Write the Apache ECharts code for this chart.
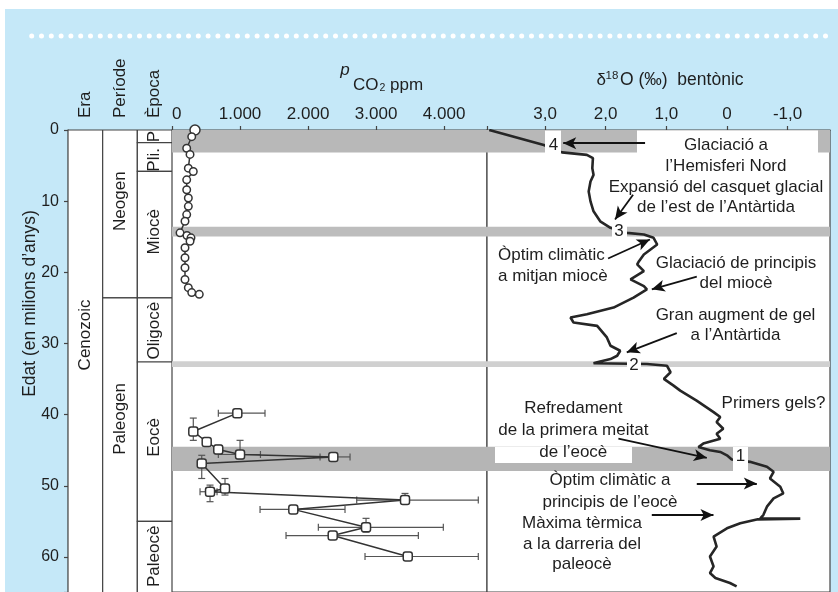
<!DOCTYPE html>
<html><head><meta charset="utf-8">
<script src="https://cdn.jsdelivr.net/npm/echarts@6/dist/echarts.min.js"></script>
<style>html,body{margin:0;padding:0;background:#fff}#c{width:838px;height:592px}</style>
</head><body><div id="c"></div>
<script>
// ---------------- data ----------------
const columnHeaders = ['Era', 'Període', 'Època'];

const eraNames = ['Cenozoic'];
const eraStart = [0];
const eraEnd = [66];
const eraLabelAt = [28.8];

const periodNames = ['Neogen', 'Paleogen'];
const periodStart = [0, 23.6];
const periodEnd = [23.6, 66];
const periodLabelAt = [10.0, 40.6];

const epochNames = ['P', 'Pli.', 'Miocè', 'Oligocè', 'Eocè', 'Paleocè'];
const epochStart = [0, 1.77, 5.8, 23.6, 32.6, 55.0];
const epochEnd = [1.77, 5.8, 23.6, 32.6, 55.0, 66];
const epochLabelAt = [0.93, 4.2, 14.3, 28.2, 43.2, 59.9];

const ageTicks = [0, 10, 20, 30, 40, 50, 60];
const co2Ticks = [0, 1000, 2000, 3000, 4000];
const co2TickText = ['0', '1.000', '2.000', '3.000', '4.000'];
const d18Ticks = [3, 2, 1, 0, -1];
const d18TickText = ['3,0', '2,0', '1,0', '0', '-1,0'];

// pCO2 (ppm) – Neogene proxies
const co2YoungAge = [0, 0.94, 2.56, 3.43, 5.36, 5.83, 7.0, 8.4, 9.56, 10.73, 11.89, 12.83, 14.45, 14.83, 15.15, 15.63, 16.55, 17.95, 19.35, 21.0, 22.15, 22.85, 23.09];
const co2YoungPpm = [338, 290, 216, 265, 240, 313, 216, 216, 240, 240, 216, 191, 118, 220, 279, 265, 191, 191, 191, 191, 240, 290, 401];

// pCO2 (ppm) – Paleogene proxies
const co2OldAge = [39.79, 42.36, 43.84, 44.9, 45.6, 45.94, 46.87, 50.37, 50.83, 52.0, 53.31, 55.83, 56.99, 59.93];
const co2OldPpm = [960, 313, 510, 680, 1000, 2371, 437, 779, 559, 3425, 1783, 2852, 2362, 3465];

// horizontal error bars (ppm)
const errHAge = [39.79, 45.6, 45.94, 50.83, 52.0, 53.31, 55.83, 56.99, 59.93];
const errHLow = [681, 681, 2176, 412, 2715, 1294, 2151, 1676, 2837];
const errHHigh = [1367, 1300, 2617, 662, 4502, 2543, 3988, 3621, 4502];

// vertical error bars (age)
const errVPpm = [313, 680, 1000, 437, 779, 559, 3425, 2852];
const errVAgeLow = [40.48, 44.3, 43.61, 45.71, 48.97, 49.9, 51.07, 54.57];
const errVAgeHigh = [43.61, 45.5, 46.2, 48.97, 51.3, 52.23, 52.6, 56.5];

// benthic δ18O (‰)
const d18Age = [0, 2.10, 3.15, 3.50, 3.96, 5.36, 6.30, 7.23, 8.63, 10.03, 11.43, 12.83, 13.75, 14.45, 14.69, 15.15, 16.09, 16.79, 17.49, 18.43, 18.89, 19.83, 20.99, 21.93, 22.39, 23.55, 24.95, 25.89, 26.35, 27.05, 27.52, 29.15, 30.32, 31.02, 31.72, 32.19, 32.64, 32.78, 32.88, 33.12, 34.04, 34.98, 35.92, 36.62, 38.02, 39.64, 40.34, 41.04, 41.98, 42.68, 43.38, 44.07, 44.54, 45.01, 45.24, 45.71, 46.31, 46.63, 47.33, 48.03, 48.97, 50.13, 51.07, 51.77, 52.93, 54.11, 54.57, 54.61, 54.71, 55.27, 55.97, 57.13, 58.53, 59.93, 61.33, 62.26, 62.96, 63.66, 64.13];
const d18Val = [3.92, 3.02, 2.72, 2.31, 2.21, 2.22, 2.20, 2.25, 2.28, 2.25, 2.20, 2.09, 1.92, 1.65, 1.37, 1.21, 1.15, 1.26, 1.37, 1.45, 1.48, 1.37, 1.59, 1.37, 1.32, 1.54, 1.87, 2.31, 2.58, 2.53, 2.14, 1.98, 1.92, 1.76, 1.81, 1.92, 2.14, 2.20, 1.32, 0.99, 0.93, 1.04, 0.88, 0.77, 0.50, 0.22, 0.11, 0.17, 0.06, 0.17, 0.11, 0.39, 0.47, 0.28, 0.11, 0.00, -0.08, -0.38, -0.66, -0.77, -0.71, -0.88, -0.93, -0.77, -0.66, -0.60, -0.55, -1.21, -0.51, -0.22, 0.00, 0.22, 0.17, 0.28, 0.22, 0.28, 0.19, -0.05, -0.16];

// shaded glaciation bands (age, Myr)
const bandStart = [0, 13.6, 32.5, 44.5];
const bandEnd = [3.15, 14.95, 33.3, 47.9];
const bandShade = ['#b8b8b8', '#bdbdbd', '#d0d0d0', '#b5b5b5'];

// annotation arrows in (δ18O, age)
const arrowFrom = [[1.35, 1.86], [1.548, 9.09], [1.96, 18.05], [0.497, 20.61], [0.827, 28.54], [1.79, 43.38], [0.497, 49.67], [1.239, 54.11]];
const arrowTo = [[2.70, 1.86], [1.845, 12.59], [1.27, 15.39], [1.239, 22.39], [1.652, 31.24], [0.332, 46.07], [-0.493, 49.67], [0.222, 54.11]];

// ---------------- styling ----------------
const FONT = 'Liberation Sans, Arial, Helvetica, sans-serif';
const INK = '#1e1e1e';
const LINE = '#444';
const AGE_MAX = 64.92;

const stratData = [];
eraNames.forEach((n, i) => stratData.push({ name: n, value: [0, eraStart[i], eraEnd[i], eraLabelAt[i]] }));
periodNames.forEach((n, i) => stratData.push({ name: n, value: [1, periodStart[i], periodEnd[i], periodLabelAt[i]] }));
epochNames.forEach((n, i) => stratData.push({ name: n, value: [2, epochStart[i], epochEnd[i], epochLabelAt[i]] }));

const bandsMarkArea = {
  silent: true,
  z: 1,
  data: bandStart.map((s, i) => [{ yAxis: s, itemStyle: { color: bandShade[i] } }, { yAxis: bandEnd[i] }])
};

const axisLineStyle = { color: LINE, width: 1.2 };

function yAxisFor(idx, show) {
  return {
    gridIndex: idx, type: 'value', inverse: true, min: 0, max: AGE_MAX, interval: 10,
    show: show,
    axisLine: { show: true, lineStyle: axisLineStyle },
    axisTick: { show: true, length: 4, lineStyle: axisLineStyle },
    axisLabel: { fontSize: 16, color: INK, margin: 9, fontFamily: FONT,
      formatter: v => (ageTicks.indexOf(v) >= 0 ? String(v) : '') },
    splitLine: { show: false }
  };
}

const gridBase = { top: 130, bottom: -2, show: true, backgroundColor: '#fff', borderColor: LINE, borderWidth: 1.2 };

const annotations = [
  { text: 'Glaciació a\nl’Hemisferi Nord', x: 726, y: 156, align: 'center', lh: 21 },
  { text: 'Expansió del casquet glacial\nde l’est de l’Antàrtida', x: 716, y: 197.5, align: 'center', lh: 19.5 },
  { text: 'Òptim climàtic\na mitjan miocè', x: 498, y: 266, align: 'left', lh: 21.5 },
  { text: 'Glaciació de principis\ndel miocè', x: 736, y: 273.5, align: 'center', lh: 20.5 },
  { text: 'Gran augment de gel\na l’Antàrtida', x: 735.5, y: 325.5, align: 'center', lh: 20 },
  { text: 'Primers gels?', x: 773.5, y: 403, align: 'center', lh: 20 },
  { text: 'Refredament\nde la primera meitat\nde l’eocè', x: 573.3, y: 430.5, align: 'center', lh: 21.7 },
  { text: 'Òptim climàtic a\nprincipis de l’eocè', x: 610, y: 491, align: 'center', lh: 21.7 },
  { text: 'Màxima tèrmica\na la darreria del\npaleocè', x: 582, y: 544, align: 'center', lh: 20.5 },
  { text: '4', x: 553.5, y: 145, align: 'center', lh: 20 },
  { text: '3', x: 619, y: 231.5, align: 'center', lh: 20 },
  { text: '2', x: 634, y: 365, align: 'center', lh: 20 },
  { text: '1', x: 740.5, y: 456, align: 'center', lh: 20 }
];
const whiteBoxes = [
  [545, 130.6, 16, 23], [612, 226, 15, 12], [627, 361, 14, 8], [733, 447, 15, 26],
  [637, 130.6, 181, 23], [495, 447, 137, 16]
];

const graphics = [
  { type: 'rect', z: 0, shape: { x: 0, y: 0, width: 838, height: 9 }, style: { fill: '#fff' } },
  { type: 'rect', z: 0, shape: { x: 0, y: 0, width: 5, height: 592 }, style: { fill: '#fff' } },
  { type: 'line', z: 1, shape: { x1: 31.7, y1: 36, x2: 826, y2: 36 },
    style: { stroke: '#fff', lineWidth: 5, lineCap: 'round', lineDash: [0, 9.8] } },
  { type: 'text', z: 6, x: 30, y: 303.5, rotation: Math.PI / 2,
    style: { text: 'Edat (en milions d’anys)', fontSize: 17.5, fontFamily: FONT, fill: INK, align: 'center', verticalAlign: 'middle' } },
  // pCO2 title
  { type: 'text', z: 6, x: 345, y: 70, style: { text: 'p', fontSize: 17, fontStyle: 'italic', fontFamily: FONT, fill: INK, align: 'center', verticalAlign: 'middle' } },
  { type: 'text', z: 6, x: 353, y: 85.5, style: { text: 'CO', fontSize: 17, fontFamily: FONT, fill: INK, align: 'left', verticalAlign: 'middle' } },
  { type: 'text', z: 6, x: 379.5, y: 88.5, style: { text: '2', fontSize: 10.5, fontFamily: FONT, fill: INK, align: 'left', verticalAlign: 'middle' } },
  { type: 'text', z: 6, x: 390, y: 85.5, style: { text: 'ppm', fontSize: 17, fontFamily: FONT, fill: INK, align: 'left', verticalAlign: 'middle' } },
  // δ18O title
  { type: 'text', z: 6, x: 596.5, y: 80, style: { text: 'δ', fontSize: 17, fontFamily: FONT, fill: INK, align: 'left', verticalAlign: 'middle' } },
  { type: 'text', z: 6, x: 605.5, y: 75.5, style: { text: '18', fontSize: 11.5, fontFamily: FONT, fill: INK, align: 'left', verticalAlign: 'middle' } },
  { type: 'text', z: 6, x: 620, y: 80, style: { text: 'O (‰)  bentònic', fontSize: 17.5, fontFamily: FONT, fill: INK, align: 'left', verticalAlign: 'middle' } }
];
whiteBoxes.forEach(b => graphics.push({ type: 'rect', z: 4, shape: { x: b[0], y: b[1], width: b[2], height: b[3] }, style: { fill: '#fff' } }));
annotations.forEach(a => graphics.push({
  type: 'text', z: 6, x: a.x, y: a.y,
  style: { text: a.text, fontSize: 17, lineHeight: a.lh, fontFamily: FONT, fill: INK, align: a.align, verticalAlign: 'middle' }
}));

function capLine(x1, y1, x2, y2) {
  return { type: 'line', shape: { x1, y1, x2, y2 }, style: { stroke: '#555', lineWidth: 1.2 } };
}

const option = {
  animation: false,
  backgroundColor: '#c5e8f8',
  textStyle: { fontFamily: FONT },
  grid: [
    Object.assign({ left: 68, width: 104 }, gridBase),
    Object.assign({ left: 172, width: 315 }, gridBase),
    Object.assign({ left: 487, width: 343 }, gridBase)
  ],
  xAxis: [
    { gridIndex: 0, type: 'category', data: columnHeaders, position: 'top',
      axisLine: { show: true, lineStyle: axisLineStyle }, axisTick: { show: false },
      axisLabel: { rotate: 90, margin: 12, fontSize: 17, color: INK, interval: 0, fontFamily: FONT },
      splitLine: { show: false } },
    { gridIndex: 1, type: 'value', position: 'top', min: 0, max: 4630, interval: 1000,
      axisLine: { show: true, lineStyle: axisLineStyle },
      axisTick: { show: true, length: 4, inside: false, lineStyle: axisLineStyle },
      axisLabel: { fontSize: 17, color: INK, margin: 7, alignMinLabel: 'left', fontFamily: FONT,
        formatter: v => { const k = co2Ticks.indexOf(v); return k >= 0 ? co2TickText[k] : ''; } },
      splitLine: { show: false } },
    { gridIndex: 2, type: 'value', position: 'top', inverse: true, min: -1.70, max: 3.957,
      axisLine: { show: true, lineStyle: axisLineStyle },
      axisTick: { show: true, length: 4, inside: false, lineStyle: axisLineStyle, customValues: d18Ticks },
      axisLabel: { fontSize: 17, color: INK, margin: 7, fontFamily: FONT, customValues: d18Ticks,
        formatter: v => { const k = d18Ticks.findIndex(t => Math.abs(t - v) < 1e-6); return k >= 0 ? d18TickText[k] : ''; } },
      splitLine: { show: false } }
  ],
  yAxis: [yAxisFor(0, true), yAxisFor(1, false), yAxisFor(2, false)],
  graphic: graphics,
  series: [
    {
      type: 'custom', xAxisIndex: 0, yAxisIndex: 0, data: stratData, clip: true, z: 2,
      renderItem: function (params, api) {
        const c = api.value(0), a0 = api.value(1), a1 = api.value(2), la = api.value(3);
        const p0 = api.coord([c, a0]), p1 = api.coord([c, a1]), pl = api.coord([c, la]);
        const w = api.size([1, 0])[0];
        return { type: 'group', children: [
          { type: 'rect', shape: { x: p0[0] - w / 2, y: p0[1], width: w, height: p1[1] - p0[1] },
            style: { fill: '#fff', stroke: LINE, lineWidth: 1.2 } },
          { type: 'text', x: pl[0], y: pl[1], rotation: Math.PI / 2,
            style: { text: stratData[params.dataIndex].name, fontSize: 17, fontFamily: FONT, fill: INK, align: 'center', verticalAlign: 'middle' } }
        ] };
      }
    },
    {
      type: 'custom', xAxisIndex: 1, yAxisIndex: 1, z: 2,
      data: errHAge.map((a, i) => [errHLow[i], errHHigh[i], a]),
      encode: { x: [0, 1], y: 2 },
      renderItem: function (params, api) {
        const a = api.coord([api.value(0), api.value(2)]), b = api.coord([api.value(1), api.value(2)]);
        return { type: 'group', children: [
          capLine(a[0], a[1], b[0], b[1]), capLine(a[0], a[1] - 3.5, a[0], a[1] + 3.5), capLine(b[0], b[1] - 3.5, b[0], b[1] + 3.5)
        ] };
      }
    },
    {
      type: 'custom', xAxisIndex: 1, yAxisIndex: 1, z: 2,
      data: errVPpm.map((v, i) => [v, errVAgeLow[i], errVAgeHigh[i]]),
      encode: { x: 0, y: [1, 2] },
      renderItem: function (params, api) {
        const a = api.coord([api.value(0), api.value(1)]), b = api.coord([api.value(0), api.value(2)]);
        return { type: 'group', children: [
          capLine(a[0], a[1], b[0], b[1]), capLine(a[0] - 3.5, a[1], a[0] + 3.5, a[1]), capLine(b[0] - 3.5, b[1], b[0] + 3.5, b[1])
        ] };
      }
    },
    {
      type: 'line', xAxisIndex: 1, yAxisIndex: 1, z: 3,
      data: co2YoungAge.map((a, i) => [co2YoungPpm[i], a]),
      symbol: 'circle', symbolSize: (v, p) => (p.dataIndex === 0 ? 10 : 7.5),
      itemStyle: { color: '#fff', borderColor: '#333', borderWidth: 1.5 },
      lineStyle: { color: '#333', width: 1.5 },
      markArea: bandsMarkArea
    },
    {
      type: 'line', xAxisIndex: 1, yAxisIndex: 1, z: 3,
      data: co2OldAge.map((a, i) => [co2OldPpm[i], a]),
      symbol: 'roundRect', symbolSize: 9,
      itemStyle: { color: '#fff', borderColor: '#333', borderWidth: 1.5 },
      lineStyle: { color: '#333', width: 1.5 }
    },
    {
      type: 'line', xAxisIndex: 2, yAxisIndex: 2, z: 2,
      data: d18Age.map((a, i) => [d18Val[i], a]),
      symbol: 'none',
      lineStyle: { color: '#262626', width: 2.6 },
      markArea: bandsMarkArea,
      markLine: {
        silent: true, z: 5, symbol: ['none', 'arrow'], symbolSize: [9, 13],
        lineStyle: { color: '#111', width: 1.8, type: 'solid' },
        label: { show: false },
        data: arrowFrom.map((f, i) => [{ coord: f }, { coord: arrowTo[i] }])
      }
    }
  ]
};

const chart = echarts.init(document.getElementById('c'));
chart.setOption(option);
</script>
</body></html>
